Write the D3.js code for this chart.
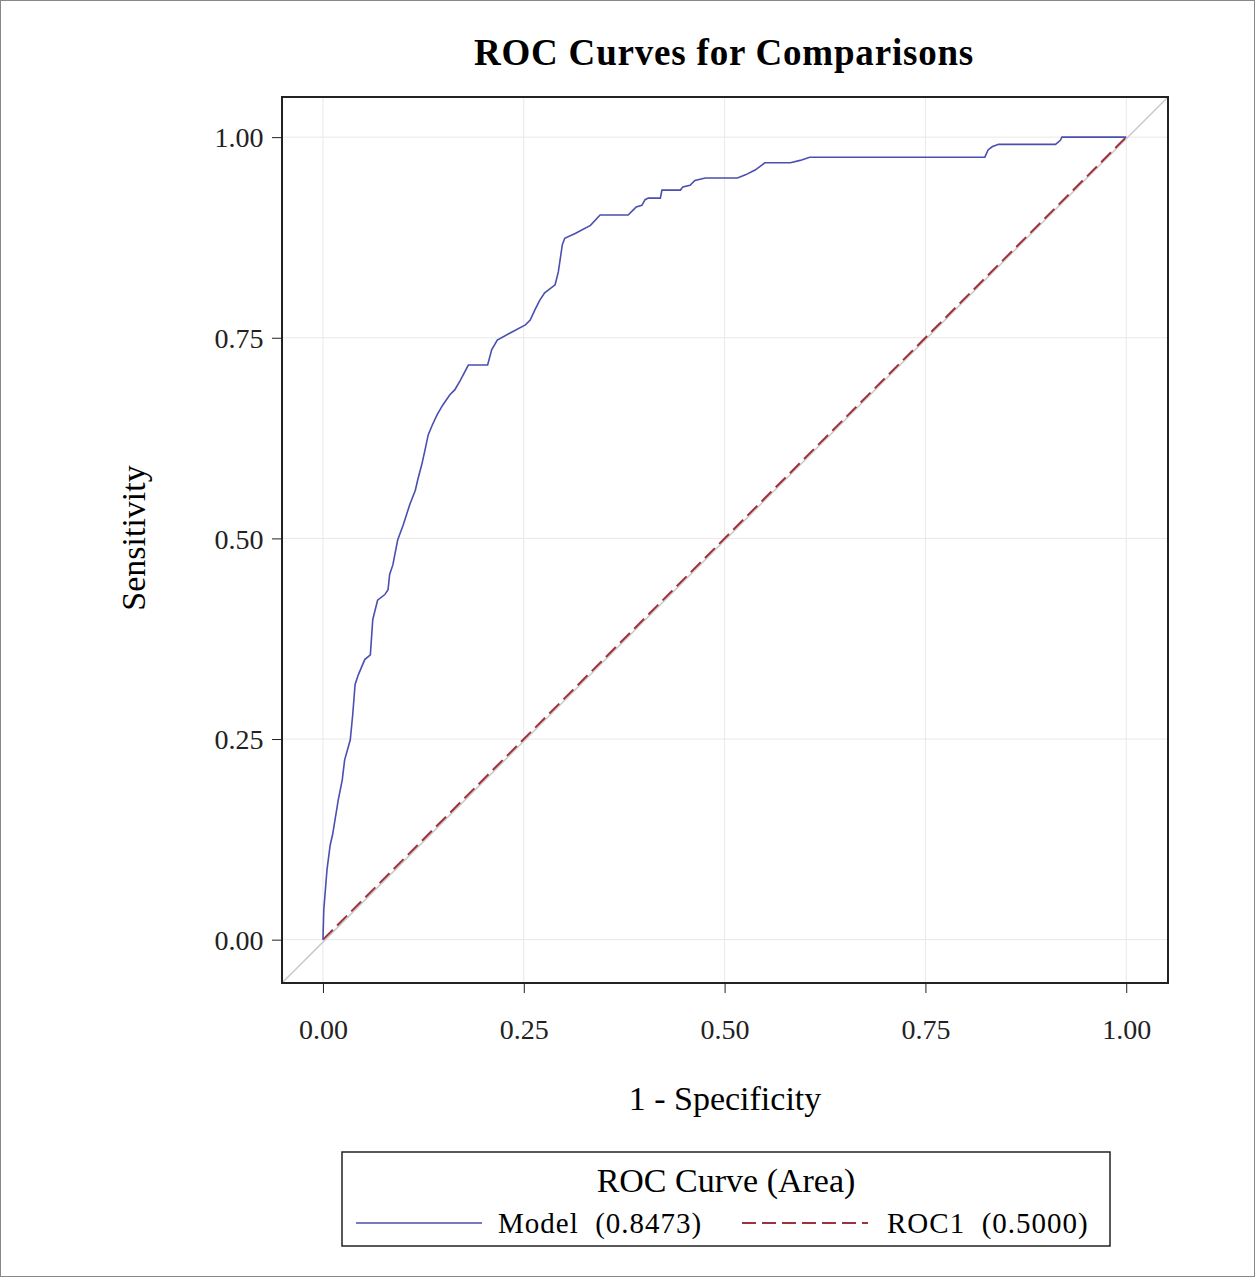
<!DOCTYPE html>
<html><head><meta charset="utf-8">
<script src="https://cdn.jsdelivr.net/npm/d3@7"></script>
<style>body{margin:0;background:#fff}text{font-family:"Liberation Serif","DejaVu Serif",serif}</style>
</head><body><svg id="c" width="1256" height="1280"></svg>
<script>
const fpr=[0,.001,.005,.009,.012,.019,.024,.027,.034,.037,.040,.044,.052,.059,.062,.068,.077,.081,.083,.087,.093,.100,.108,.115,.118,.123,.127,.131,.136,.142,.149,.158,.164,.171,.181,.205,.210,.217,.233,.252,.258,.264,.270,.276,.289,.293,.298,.301,.314,.333,.345,.366,.380,.386,.390,.397,.401,.405,.420,.422,.445,.448,.457,.463,.476,.516,.526,.538,.550,.582,.594,.606,.824,.828,.833,.841,.912,.918,.920,1];
const tpr=[0,.037,.087,.118,.131,.174,.199,.224,.249,.280,.318,.330,.349,.355,.399,.423,.430,.436,.455,.467,.498,.517,.542,.560,.573,.592,.610,.629,.641,.654,.666,.679,.685,.697,.716,.716,.735,.747,.756,.766,.772,.785,.797,.806,.816,.832,.866,.874,.880,.890,.903,.903,.903,.909,.913,.915,.922,.924,.924,.934,.934,.938,.940,.946,.949,.949,.953,.959,.968,.968,.971,.975,.975,.984,.988,.991,.991,.996,1,1];
const ref=[[0,0],[1,1]];
const ticks=[0,0.25,0.5,0.75,1];
const svg=d3.select("#c");
svg.append("rect").attr("x",0.5).attr("y",0.5).attr("width",1254).attr("height",1276).attr("fill","none").attr("stroke","#888");
const x=d3.scaleLinear().domain([-0.051,1.052]).range([282,1168]);
const y=d3.scaleLinear().domain([-0.054,1.05]).range([983,97]);
const g=svg.append("g");
ticks.forEach(t=>{
 g.append("line").attr("x1",x(t)).attr("x2",x(t)).attr("y1",97).attr("y2",983).attr("stroke","#e8e8e8");
 g.append("line").attr("y1",y(t)).attr("y2",y(t)).attr("x1",282).attr("x2",1168).attr("stroke","#e8e8e8");
});
g.append("line").attr("x1",282).attr("y1",983).attr("x2",1168).attr("y2",97).attr("stroke","#c8c8c8").attr("stroke-width",1.5);
const line=d3.line().x(d=>x(d[0])).y(d=>y(d[1]));
g.append("path").datum(ref).attr("d",line).attr("fill","none").attr("stroke","#a0303a").attr("stroke-width",2).attr("stroke-dasharray","14,6");
g.append("path").datum(fpr.map((f,i)=>[f,tpr[i]])).attr("d",line).attr("fill","none").attr("stroke","#4a4fb0").attr("stroke-width",1.6);
g.append("rect").attr("x",282).attr("y",97).attr("width",886).attr("height",886).attr("fill","none").attr("stroke","#222").attr("stroke-width",2);
const xa=svg.append("g").attr("transform","translate(0,983)").call(d3.axisBottom(x).tickValues(ticks).tickFormat(d3.format(".2f")).tickSize(10).tickSizeOuter(0));
const ya=svg.append("g").attr("transform","translate(282,0)").call(d3.axisLeft(y).tickValues(ticks).tickFormat(d3.format(".2f")).tickSize(10).tickSizeOuter(0));
[xa,ya].forEach(a=>{a.select(".domain").remove();a.selectAll("line").attr("stroke","#222");a.selectAll("text").attr("font-size",28).attr("fill","#222").style("font-family","Liberation Serif");});
xa.selectAll("text").attr("dy","1.55em");
ya.selectAll("text").attr("dx","-0.2em").attr("dy","0.35em");
svg.append("text").attr("x",724).attr("y",65).attr("text-anchor","middle").attr("font-size",37).attr("font-weight","bold").attr("letter-spacing",0.8).text("ROC Curves for Comparisons");
svg.append("text").attr("x",725).attr("y",1110).attr("text-anchor","middle").attr("font-size",34).text("1 - Specificity");
svg.append("text").attr("transform","translate(145,538) rotate(-90)").attr("text-anchor","middle").attr("font-size",34).text("Sensitivity");
svg.append("rect").attr("x",342).attr("y",1152).attr("width",768).attr("height",94).attr("fill","none").attr("stroke","#222").attr("stroke-width",1.5);
svg.append("text").attr("x",726).attr("y",1192).attr("text-anchor","middle").attr("font-size",34).text("ROC Curve (Area)");
svg.append("line").attr("x1",356).attr("x2",482).attr("y1",1223).attr("y2",1223).attr("stroke","#4a4fb0").attr("stroke-width",1.6);
svg.append("text").attr("x",498).attr("y",1233).attr("font-size",29).attr("letter-spacing",1).attr("xml:space","preserve").text("Model  (0.8473)");
svg.append("line").attr("x1",742).attr("x2",868).attr("y1",1223).attr("y2",1223).attr("stroke","#a0303a").attr("stroke-width",2).attr("stroke-dasharray","14,6");
svg.append("text").attr("x",887).attr("y",1233).attr("font-size",29).attr("letter-spacing",1).attr("xml:space","preserve").text("ROC1  (0.5000)");
</script></body></html>
